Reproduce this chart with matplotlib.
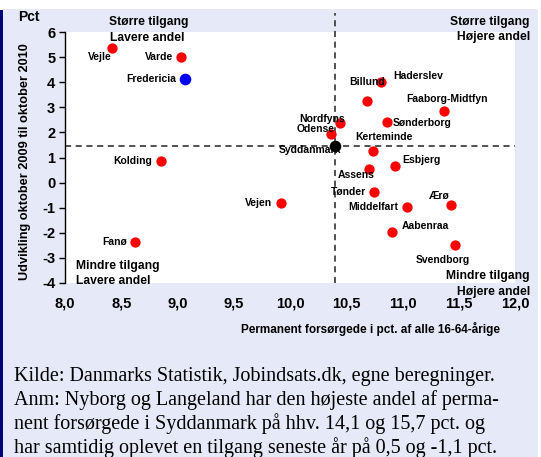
import matplotlib
matplotlib.use("Agg")
import matplotlib.pyplot as plt
from matplotlib.patches import Rectangle

plt.rcParams['font.family'] = ['Liberation Sans', 'DejaVu Sans']

names = ["Vejle", "Varde", "Kolding", "Fanø", "Vejen", "Billund", "Haderslev",
         "Faaborg-Midtfyn", "Sønderborg", "Nordfyns", "Odense", "Kerteminde",
         "Esbjerg", "Assens", "Tønder", "Middelfart", "Ærø", "Aabenraa", "Svendborg"]
x_vals = [8.42, 9.03, 8.85, 8.62, 9.92, 10.81, 10.68, 11.37, 10.86, 10.44, 10.36,
          10.74, 10.93, 10.70, 10.75, 11.04, 11.43, 10.91, 11.47]
y_vals = [5.36, 5.00, 0.88, -2.36, -0.80, 4.00, 3.24, 2.84, 2.40, 2.36, 1.92,
          1.24, 0.68, 0.56, -0.36, -0.96, -0.88, -1.96, -2.48]
# label offsets in pixels (dx, dy, alignment)
label_offsets = [(-1, -9, 'right'), (-8, 0, 'right'), (-9, 0, 'right'), (-8, 0, 'right'),
                 (-9, 0, 'right'), (4, 0, 'right'), (27, 25, 'left'), (3, 12, 'center'),
                 (6, -1, 'left'), (5, 4, 'right'), (4, 5, 'right'), (-18, 14, 'left'),
                 (8, 6, 'left'), (6, -6, 'right'), (-8, 0, 'right'), (-9, 0, 'right'),
                 (-1, 9, 'right'), (9, 6, 'left'), (-13, -15, 'center')]

fred_x, fred_y = [9.07], [4.12]
sdk_x, sdk_y = [10.40], [1.45]

xticks = [8.0, 8.5, 9.0, 9.5, 10.0, 10.5, 11.0, 11.5, 12.0]
xticklabels = ["8,0", "8,5", "9,0", "9,5", "10,0", "10,5", "11,0", "11,5", "12,0"]
yticks = [-4, -3, -2, -1, 0, 1, 2, 3, 4, 5, 6]

lav = '#E6E9F8'
fig = plt.figure(figsize=(5.41, 4.57), dpi=100, facecolor='white')
W, H = 541, 457
fig.patches.append(Rectangle((3 / W, 0), 535 / W, 1 - 9 / H, transform=fig.transFigure,
                             facecolor=lav, edgecolor='none', zorder=-5))
fig.patches.append(Rectangle((0, 0), 3 / W, 1 - 10 / H, transform=fig.transFigure,
                             facecolor='#00007A', edgecolor='none', zorder=-5))

ax = fig.add_axes([65 / W, 1 - 283 / H, 450 / W, 251 / H])
ax.set_zorder(1)
ax.set_facecolor('white')
ax.set_xlim(8, 12)
ax.set_ylim(-4, 6)
for s in ['top', 'right', 'bottom']:
    ax.spines[s].set_visible(False)
ax.spines['left'].set_linewidth(1.0)
ax.set_xticks(xticks)
ax.set_xticklabels(xticklabels, fontsize=10.5, fontweight='bold')
ax.tick_params(axis='x', length=0, pad=10)
ax.set_yticks(yticks)
ax.set_yticklabels([str(v) for v in yticks], fontsize=10.5, fontweight='bold')
ax.tick_params(axis='y', length=4, width=1, pad=3)

ax.axhline(sdk_y[0], color='#222222', linestyle=(0, (4, 3)), linewidth=1.1, zorder=1)
ax.plot([sdk_x[0], sdk_x[0]], [-4, 6.76], color='#222222', linestyle=(0, (4, 3)),
        linewidth=1.1, zorder=1, clip_on=False)

ax.scatter(x_vals, y_vals, s=55, color='#FF0000', zorder=3, linewidths=0)
ax.scatter(fred_x, fred_y, s=70, color='#0000FF', zorder=3, linewidths=0)
ax.scatter(sdk_x, sdk_y, s=70, color='black', zorder=3, linewidths=0)

for n, x, y, (dx, dy, ha) in zip(names, x_vals, y_vals, label_offsets):
    ax.annotate(n, (x, y), xytext=(dx, dy), textcoords='offset pixels', ha=ha,
                va='center', fontsize=7.5, fontweight='bold', zorder=4)
ax.annotate("Fredericia", (fred_x[0], fred_y[0]), xytext=(-9, 0), textcoords='offset pixels',
            ha='right', va='center', fontsize=7.5, fontweight='bold', zorder=4)
ax.annotate("Syddanmark", (sdk_x[0], sdk_y[0]), xytext=(6, -4), textcoords='offset pixels',
            ha='right', va='center', fontsize=7.5, fontweight='bold', zorder=2)

def ftext(px, py, s, ha, size, weight='bold', family=None):
    kw = {}
    if family:
        kw['family'] = family
    fig.text(px / W, 1 - py / H, s, ha=ha, va='center', fontsize=size, fontweight=weight, **kw)

ftext(18, 17, "Pct", 'left', 10)
ftext(149, 22, "Større tilgang", 'center', 8.7)
ftext(147, 38, "Lavere andel", 'center', 8.7)
ftext(530, 22, "Større tilgang", 'right', 8.7)
ftext(530, 37, "Højere andel", 'right', 8.7)
ftext(76, 266, "Mindre tilgang", 'left', 8.7)
ftext(76, 281, "Lavere andel", 'left', 8.7)
ftext(530, 276, "Mindre tilgang", 'right', 8.7)
ftext(530, 292, "Højere andel", 'right', 8.7)
ftext(500, 329, "Permanent forsørgede i pct. af alle 16-64-årige", 'right', 8.5)

fig.text(25 / W, 1 - 162 / H, "Udvikling oktober 2009 til oktober 2010", rotation=90,
         ha='center', va='center', fontsize=9.2, fontweight='bold')

foot = ["Kilde: Danmarks Statistik, Jobindsats.dk, egne beregninger.",
        "Anm: Nyborg og Langeland har den højeste andel af perma-",
        "nent forsørgede i Syddanmark på hhv. 14,1 og 15,7 pct. og",
        "har samtidig oplevet en tilgang seneste år på 0,5 og -1,1 pct."]
for i, line in enumerate(foot):
    fig.text(14 / W, 1 - (376 + 23.7 * i) / H, line, ha='left', va='center',
             fontsize=14.5, family=['Liberation Serif', 'DejaVu Serif'])

fig.savefig("out.png", dpi=100, facecolor=fig.get_facecolor())
